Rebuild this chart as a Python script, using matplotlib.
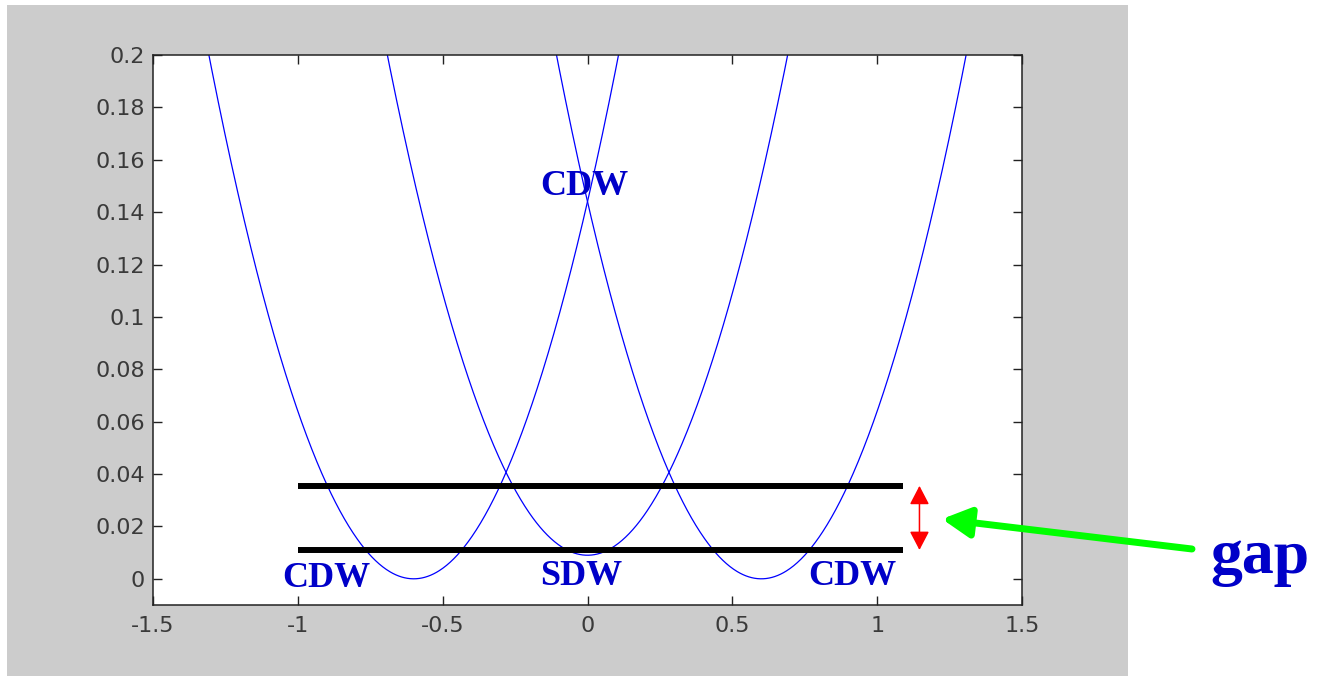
import numpy as np
import matplotlib.pyplot as plt
from matplotlib.patches import Rectangle, FancyArrowPatch

# parabola bands: centre, minimum, curvature
centers = [-0.6, 0.0, 0.6]
minima = [0.0, 0.009, 0.0]
curv = [0.4, 0.4, 0.4]

# black level lines
level_y = [0.0355, 0.011]
level_x = [-1.0, 1.09]

# labels
labels = ['CDW', 'SDW', 'CDW', 'CDW']
label_x = [-0.90, -0.02, 0.915, -0.01]
label_y = [-0.003, -0.0025, -0.0025, 0.1465]

xticks = [-1.5, -1, -0.5, 0, 0.5, 1, 1.5]
xtick_labels = ['-1.5', '-1', '-0.5', '0', '0.5', '1', '1.5']
yticks = [0, 0.02, 0.04, 0.06, 0.08, 0.1, 0.12, 0.14, 0.16, 0.18, 0.2]
ytick_labels = ['0', '0.02', '0.04', '0.06', '0.08', '0.1', '0.12', '0.14', '0.16', '0.18', '0.2']

fig = plt.figure(figsize=(13.18, 6.76), dpi=100)
fig.patch.set_facecolor('white')
fig.patches.append(Rectangle((7 / 1318, 0), 1121 / 1318, 1 - 5 / 676,
                             transform=fig.transFigure, facecolor='#cccccc',
                             edgecolor='none', zorder=-10))

ax = fig.add_axes([153 / 1318, 1 - 605 / 676, 869 / 1318, 550 / 676])
ax.set_facecolor('white')

for c, m, a in zip(centers, minima, curv):
    x = np.linspace(-1.5, 1.5, 1200)
    y = a * (x - c) ** 2 + m
    ax.plot(x, y, color='#0000ff', lw=0.9)

for ly in level_y:
    ax.plot(level_x, [ly, ly], color='black', lw=4.3, solid_capstyle='butt')

for t, tx, ty in zip(labels, label_x, label_y):
    ax.text(tx, ty, t, color='#0000c8', fontsize=26, fontweight='bold',
            family='Liberation Serif', ha='center', va='baseline')

ax.set_xlim(-1.5, 1.5)
ax.set_ylim(-0.01, 0.2)
ax.set_xticks(xticks)
ax.set_xticklabels(xtick_labels)
ax.set_yticks(yticks)
ax.set_yticklabels(ytick_labels)
ax.tick_params(direction='in', length=6.5, width=1, top=True, right=True,
               labelsize=16, colors='#222222', labelcolor='#3a3a3a')
ax.tick_params(axis='x', pad=8)
ax.tick_params(axis='y', pad=6)
for s in ax.spines.values():
    s.set_linewidth(1.1)
    s.set_color('#222222')

# red double arrow marking the gap
red = FancyArrowPatch((1.146, level_y[0]), (1.146, level_y[1]),
                      arrowstyle='<|-|>,head_length=1.15,head_width=0.6',
                      mutation_scale=10, color='red', lw=1.1,
                      shrinkA=0, shrinkB=0, clip_on=False)
ax.add_patch(red)

# green arrow from the "gap" word
ax.annotate('', xy=(942 / 1318, 1 - 519 / 676), xycoords='figure fraction',
            xytext=(1192 / 1318, 1 - 549 / 676), textcoords='figure fraction',
            arrowprops=dict(arrowstyle='-|>,head_length=0.85,head_width=0.45',
                            mutation_scale=20, color='#00ff00', lw=5,
                            shrinkA=0, shrinkB=0))

fig.text(1260 / 1318, 1 - 573 / 676, 'gap', color='#0000c8', fontsize=46,
         fontweight='bold', family='Liberation Serif', ha='center', va='baseline')

fig.savefig('out.png', dpi=100)
